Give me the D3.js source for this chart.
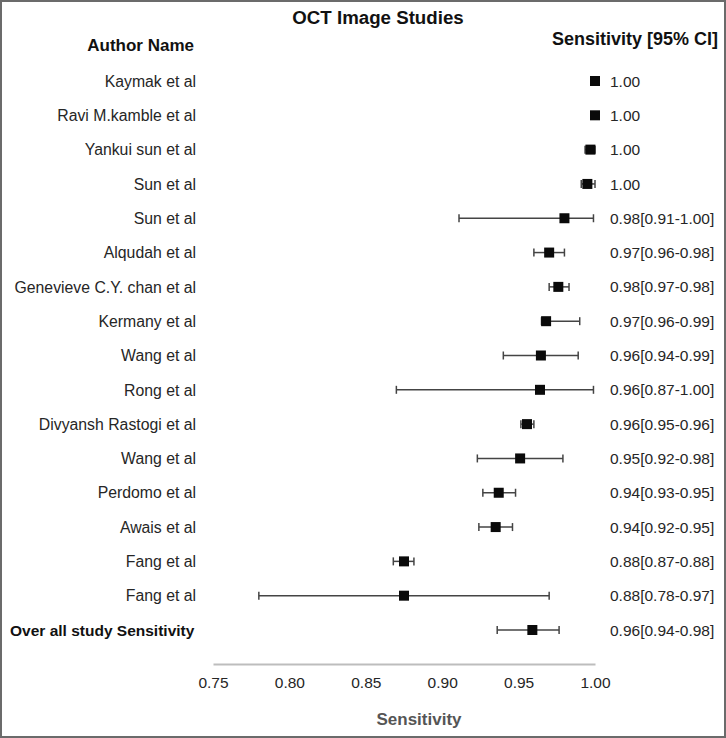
<!DOCTYPE html>
<html>
<head>
<meta charset="utf-8">
<script src="https://cdn.jsdelivr.net/npm/d3@7"></script>
<style>
  html, body { margin: 0; padding: 0; background: #fff; }
  svg { display: block; font-family: "Liberation Sans", Arial, sans-serif; }
</style>
</head>
<body>
<svg id="chart" width="726" height="738"></svg>
<script>
const authors = [
  "Kaymak et al", "Ravi M.kamble et al", "Yankui sun et al", "Sun et al", "Sun et al",
  "Alqudah et al", "Genevieve C.Y. chan et al", "Kermany et al", "Wang et al", "Rong et al",
  "Divyansh Rastogi et al", "Wang et al", "Perdomo et al", "Awais et al", "Fang et al",
  "Fang et al", "Over all study Sensitivity"
];
const estimate = [1.000, 1.000, 0.997, 0.995, 0.980, 0.970, 0.976, 0.968, 0.9646, 0.964, 0.9555, 0.951, 0.937, 0.935, 0.875, 0.875, 0.959];
const lower    = [1.000, 1.000, 0.9935, 0.991, 0.911, 0.960, 0.970, 0.965, 0.940, 0.870, 0.9515, 0.923, 0.9266, 0.924, 0.868, 0.780, 0.936];
const upper    = [1.000, 1.000, 1.000, 1.000, 0.999, 0.980, 0.983, 0.990, 0.989, 0.999, 0.960, 0.979, 0.948, 0.946, 0.8815, 0.970, 0.9765];
const ciLabels = [
  "1.00", "1.00", "1.00", "1.00", "0.98[0.91-1.00]", "0.97[0.96-0.98]", "0.98[0.97-0.98]",
  "0.97[0.96-0.99]", "0.96[0.94-0.99]", "0.96[0.87-1.00]", "0.96[0.95-0.96]", "0.95[0.92-0.98]",
  "0.94[0.93-0.95]", "0.94[0.92-0.95]", "0.88[0.87-0.88]", "0.88[0.78-0.97]", "0.96[0.94-0.98]"
];
const tickValues = [0.75, 0.80, 0.85, 0.90, 0.95, 1.00];

const rows = authors.map((a, i) => ({ i, author: a, est: estimate[i], lo: lower[i], hi: upper[i], label: ciLabels[i] }));
const last = rows.length - 1;

const svg = d3.select("#chart");
const W = 726, H = 738;

// border
svg.append("rect").attr("x", 1).attr("y", 1).attr("width", W - 2).attr("height", H - 2)
  .attr("fill", "#fff").attr("stroke", "#6b6b6b").attr("stroke-width", 2);

const x = d3.scaleLinear().domain([0.75, 1.00]).range([213, 595]);
const y = d3.scalePoint().domain(rows.map(r => r.i)).range([81, 630]);

// title and headers
svg.append("text").attr("x", 378).attr("y", 17).attr("dy", "0.36em")
  .attr("text-anchor", "middle").attr("font-weight", "bold").attr("font-size", "18.7px")
  .attr("fill", "#111").text("OCT Image Studies");
svg.append("text").attr("x", 194).attr("y", 45).attr("dy", "0.36em")
  .attr("text-anchor", "end").attr("font-weight", "bold").attr("font-size", "17px")
  .attr("fill", "#111").text("Author Name");
svg.append("text").attr("x", 718).attr("y", 39).attr("dy", "0.36em")
  .attr("text-anchor", "end").attr("font-weight", "bold").attr("font-size", "18px")
  .attr("fill", "#111").text("Sensitivity [95% CI]");

// author labels
svg.append("g").selectAll("text").data(rows).join("text")
  .attr("x", d => d.i === last ? 10 : 196)
  .attr("y", d => y(d.i)).attr("dy", "0.36em")
  .attr("text-anchor", d => d.i === last ? "start" : "end")
  .attr("font-size", d => d.i === last ? "15.5px" : "15.8px")
  .attr("font-weight", d => d.i === last ? "bold" : "normal")
  .attr("fill", d => d.i === last ? "#111" : "#262626")
  .text(d => d.author);

// CI label text
svg.append("g").selectAll("text").data(rows).join("text")
  .attr("x", 610).attr("y", d => y(d.i)).attr("dy", "0.36em")
  .attr("font-size", "15.5px").attr("fill", "#262626")
  .text(d => d.label);

// CI lines
const ciRows = rows.filter(r => r.hi > r.lo);
const ci = svg.append("g").attr("stroke", "#444").attr("stroke-width", 1.5);
ci.selectAll("line.ci").data(ciRows).join("line").attr("class", "ci")
  .attr("x1", d => x(d.lo)).attr("x2", d => x(d.hi))
  .attr("y1", d => y(d.i)).attr("y2", d => y(d.i));
ci.selectAll("line.capl").data(ciRows).join("line").attr("class", "capl")
  .attr("x1", d => x(d.lo)).attr("x2", d => x(d.lo))
  .attr("y1", d => y(d.i) - 4).attr("y2", d => y(d.i) + 4);
ci.selectAll("line.caph").data(ciRows).join("line").attr("class", "caph")
  .attr("x1", d => x(d.hi)).attr("x2", d => x(d.hi))
  .attr("y1", d => y(d.i) - 4).attr("y2", d => y(d.i) + 4);

// markers
const ms = 10;
svg.append("g").selectAll("rect").data(rows).join("rect")
  .attr("x", d => x(d.est) - ms / 2).attr("y", d => y(d.i) - ms / 2)
  .attr("width", ms).attr("height", ms).attr("fill", "#0a0a0a");

// axis
const axis = d3.axisBottom(x).tickValues(tickValues).tickFormat(d3.format(".2f"))
  .tickSize(0).tickSizeOuter(0).tickPadding(12.5);
const ga = svg.append("g").attr("transform", "translate(0,664)").call(axis);
ga.select(".domain").attr("stroke", "#bdbdbd").attr("stroke-width", 2);
ga.selectAll("text").attr("font-size", "15.5px").attr("fill", "#262626")
  .attr("font-family", "'Liberation Sans', Arial, sans-serif");

svg.append("text").attr("x", 419).attr("y", 719).attr("dy", "0.36em")
  .attr("text-anchor", "middle").attr("font-weight", "bold").attr("font-size", "17px")
  .attr("fill", "#555").text("Sensitivity");
</script>
</body>
</html>
